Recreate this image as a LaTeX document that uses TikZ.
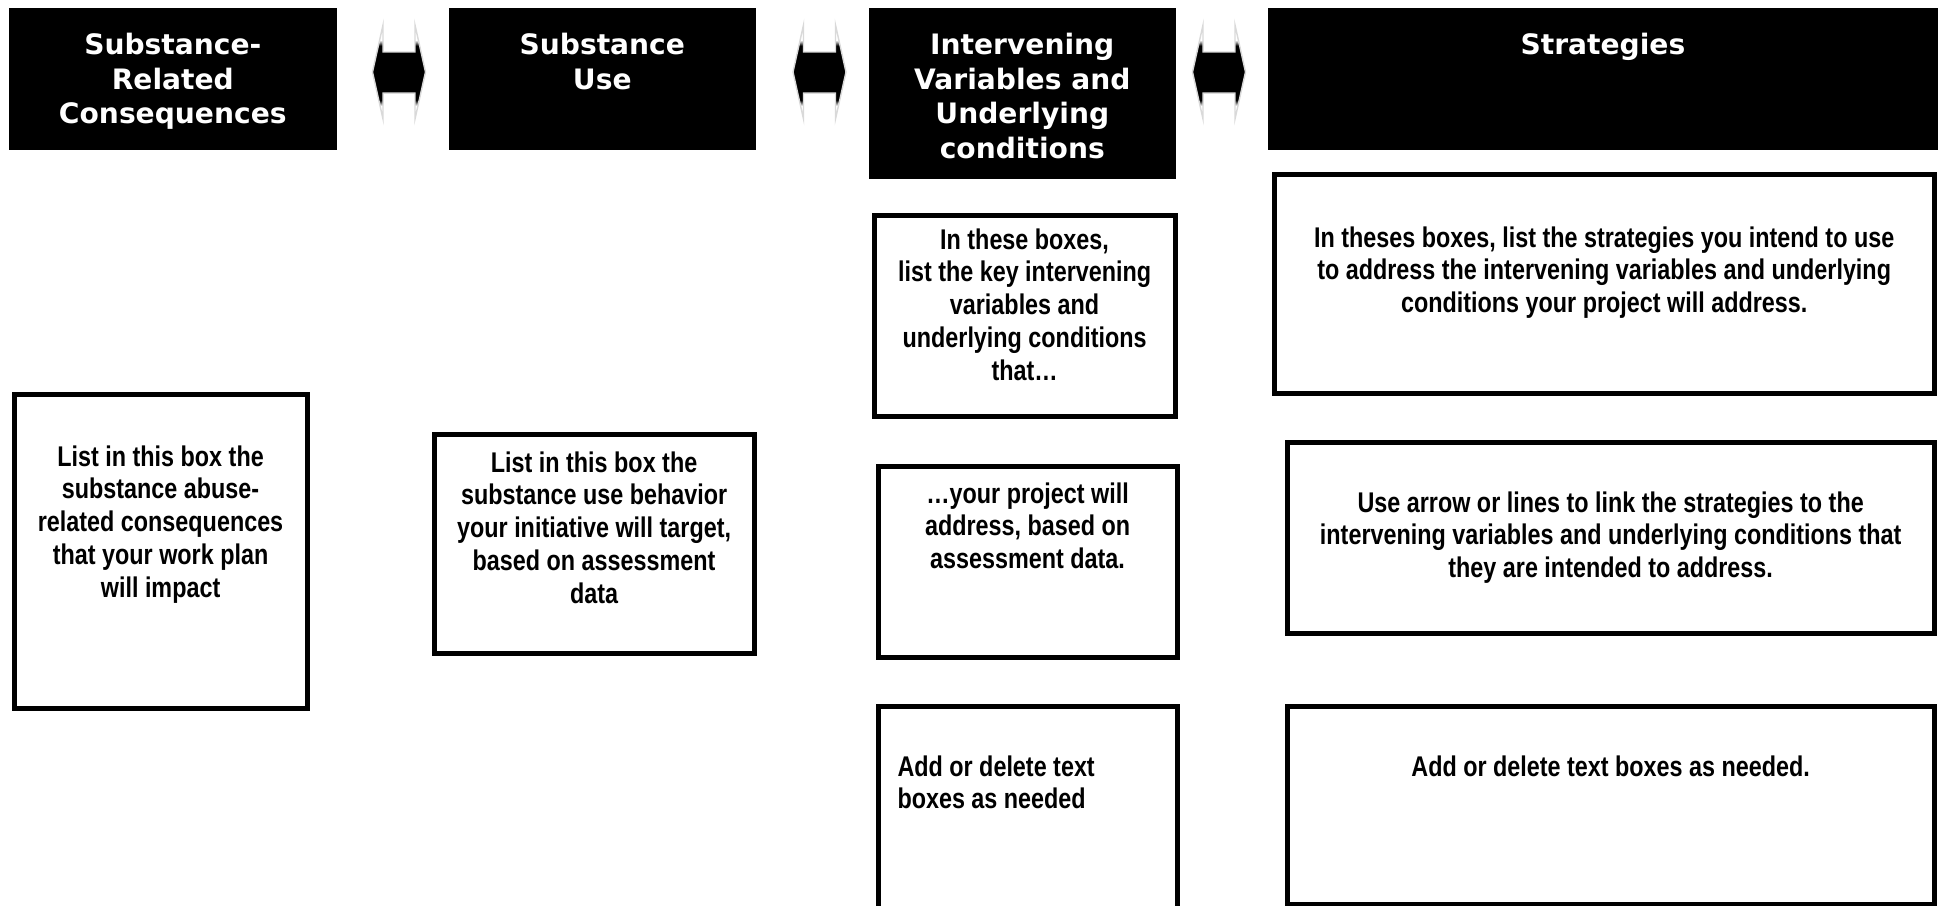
\documentclass[tikz,border=0pt]{standalone}
\usepackage{fontspec}
\usepackage{xcolor}
\usepackage{tikz}
\usetikzlibrary{positioning}

\newfontfamily\headfont{DejaVu Sans}
\newfontfamily\cardfont[FakeStretch=0.82]{Liberation Sans}

% fixed size box, text starts a gap below the top
\newcommand{\cardtext}[4]{\parbox[c][#2][t]{#1}{\centering\vspace*{#3}\strut#4}}

\pgfdeclareverticalshading{arrowfade}{100bp}{color(0bp)=(white); color(32bp)=(white); color(35bp)=(black); color(64bp)=(black); color(67bp)=(white); color(100bp)=(white)}

\begin{document}
\begin{tikzpicture}[
    x=0.01cm, y=-0.01cm,
    header/.style={rectangle, fill=black, text=white, inner sep=0pt, anchor=north west, font=\headfont\bfseries\fontsize{8pt}{9.8pt}\selectfont},
    card/.style={rectangle, draw=black, line width=0.05cm, inner sep=0pt, anchor=north west, font=\cardfont\bfseries\fontsize{8.1pt}{9.35pt}\selectfont},
    dblarrow/.style={shade, shading=arrowfade, draw=black!15, line width=0.4pt}
    ]
    \useasboundingbox (0,0) rectangle (1944,905);

    % column headers
    \node[header] (consequences) at (8,7) {\cardtext{3.28cm}{1.42cm}{0.23cm}{Substance-\\Related\\Consequences}};
    \node[header] (use) at (448,7) {\cardtext{3.07cm}{1.42cm}{0.23cm}{Substance\\Use}};
    \node[header] (intervening) at (868,7) {\cardtext{3.07cm}{1.71cm}{0.23cm}{Intervening\\Variables and\\Underlying\\conditions}};
    \node[header] (strategies) at (1267,7) {\cardtext{6.70cm}{1.42cm}{0.23cm}{Strategies}};

    % double arrows between the headers
    \foreach \cx in {399,819.5,1219} {
        \path[dblarrow] (\cx-26.5,72) -- (\cx-16,25) -- (\cx-16,52) -- (\cx+16,52) -- (\cx+16,25) -- (\cx+26.5,72)
            -- (\cx+16,119) -- (\cx+16,93) -- (\cx-16,93) -- (\cx-16,119) -- cycle;
    }

    % boxes under the headers
    \node[card] (consbox) at (11.5,391.5) {\cardtext{2.93cm}{3.14cm}{0.49cm}{List in this box the\\substance abuse-\\related consequences\\that your work plan\\will impact}};
    \node[card] (usebox) at (431.5,431.5) {\cardtext{3.20cm}{2.19cm}{0.15cm}{List in this box the\\substance use behavior\\your initiative will target,\\based on assessment\\data}};

    \node[card] (ivbox1) at (871.5,212.5) {\cardtext{3.01cm}{2.01cm}{0.11cm}{In these boxes,\\list the key intervening\\variables and\\underlying conditions\\that\ldots}};
    \node[card] (ivbox2) at (875.5,463.5) {\cardtext{2.99cm}{1.91cm}{0.14cm}{\ldots your project will\\address, based on\\assessment data.}};
    \node[card] (ivbox3) at (875.5,703.5) {\cardtext{2.99cm}{2.085cm}{0.47cm}{\raggedright\leftskip=0.195cm Add or delete text\\boxes as needed}};

    \node[card] (stratbox1) at (1271.5,171.5) {\cardtext{6.60cm}{2.19cm}{0.50cm}{In theses boxes, list the strategies you intend to use\\to address the intervening variables and underlying\\conditions your project will address.}};
    \node[card] (stratbox2) at (1284.5,439.5) {\cardtext{6.47cm}{1.91cm}{0.47cm}{Use arrow or lines to link the strategies to the\\intervening variables and underlying conditions that\\they are intended to address.}};
    \node[card] (stratbox3) at (1284.5,703.5) {\cardtext{6.47cm}{1.98cm}{0.47cm}{Add or delete text boxes as needed.}};
\end{tikzpicture}
\end{document}
